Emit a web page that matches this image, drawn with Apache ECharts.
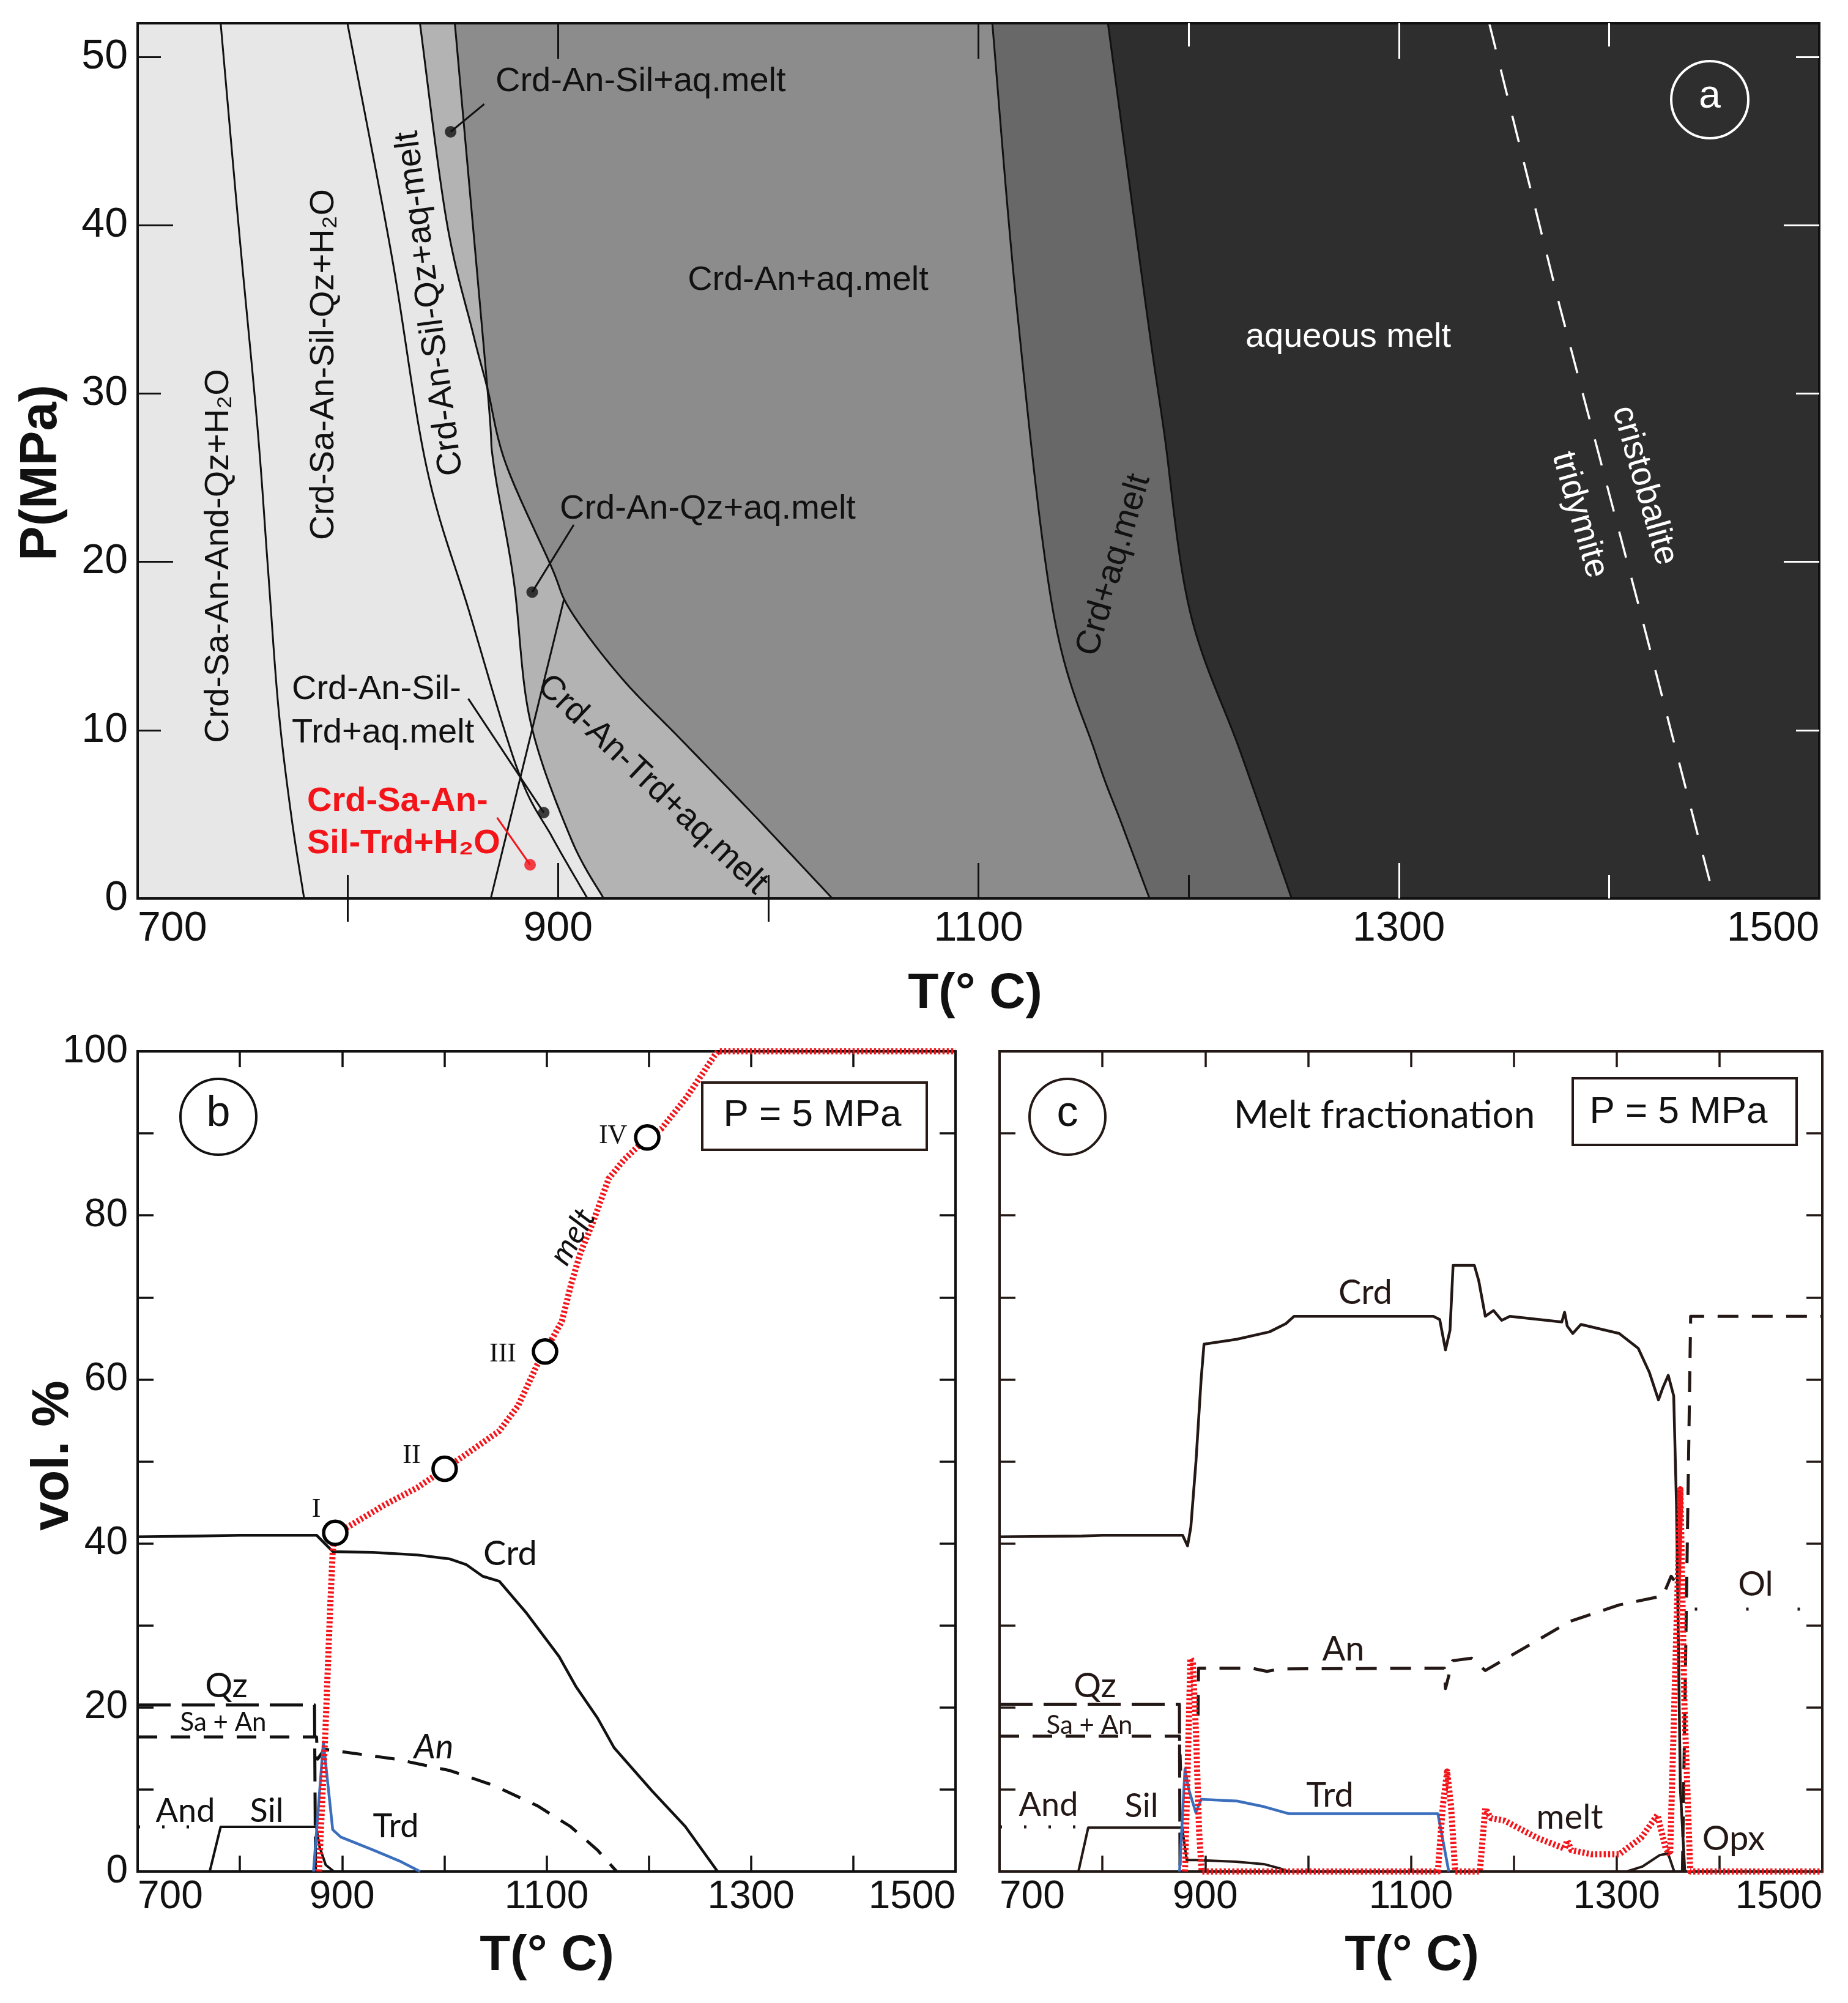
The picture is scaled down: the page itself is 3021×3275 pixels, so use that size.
<!DOCTYPE html>
<html><head><meta charset="utf-8">
<script src="https://cdn.jsdelivr.net/npm/echarts@6/dist/echarts.min.js"></script>
<style>html,body{margin:0;padding:0;background:#fff}#chart{width:3021px;height:3275px}</style>
</head><body><div id="chart"></div>
<script>
// ================= DATA =================
// ---- Panel (a): phase boundaries, points [T (°C), P (MPa)], from top (P=52) to bottom (P=0)
const aBoundarySaAnd   = [[739.5,52],[748,40],[757,28],[762,19.6],[767,11.3],[773,5],[779.2,0]];
const aBoundarySaMelt  = [[799.8,52],[820.7,38.3],[837.5,25.6],[857.6,17.1],[880.9,7.6],[897.4,3.6],[914,0]];
const aBoundarySilOut  = [[850.9,52],[866.4,30.3],[869.3,25.85],[878.9,18.9],[886.7,10.6],[906,3.6],[921.7,0]];
const aBoundaryQzOut   = [[834.3,52],[846.9,40.3],[859.5,33.6],[866.4,30.3],[875.1,25.85],[896.5,19.8],[906.1,17.07],[930.2,13.1],[959.3,9.34],[993,4.98],[1030.5,0]];
const aBoundaryQzTrd   = [[868,0],[902.8,17.76]];
const aBoundaryAnOut   = [[1106.6,52],[1118.5,34.8],[1135.5,17.07],[1155.8,8.58],[1168.3,4.38],[1181.4,0]];
const aBoundaryCrdOut  = [[1161.6,52],[1180.1,34.8],[1188.1,27.9],[1200.6,17.07],[1225,8.58],[1249,0]];
const aCristobaliteTridymite = [[1343,52],[1376.3,35.3],[1414.8,17.07],[1450,0]];
const aSilQzCrossing   = [866.4,30.3];
// label dots and leader lines [T, P]
const aDots      = [[848.9,45.55],[887.7,18.2],[893.2,5.1]];
const aRedDot    = [[886.7,2.0]];
const aLeaders   = [[[864.9,47.2],[848.9,45.55]],[[907.5,22.2],[887.7,18.2]],[[857.3,11.87],[893.2,5.1]]];
const aRedLeader = [[871,4.8],[886.7,2.0]];
// axis ticks / labels (a)
const aXLabels = [700,900,1100,1300,1500];
const aYLabels = [0,10,20,30,40,50];
const aXTicksLongDark = [900,1100];
const aXTicksShortDarkBottom = [800,1000,1200];
const aXTicksShortDarkTop = [800,1000];
const aXTicksLongLight = [1300];
const aXTicksShortLightBottom = [1400];
const aXTicksShortLightTop = [1200,1400];
const aYTicksLong = [20,40];
const aYTicksShort = [10,30,50];

// ---- Panel (b): equilibrium melting at 5 MPa, [T (°C), vol.%]
const bCrd  = [[700,40.8],[760,40.9],[800,41.0],[875,41.0],[883,40.0],[891,39.0],[930,38.9],[973.5,38.6],[1005.6,38.1],[1021.7,37.4],[1037.5,36.0],[1053.7,35.4],[1080.4,31.5],[1112.3,26.2],[1128.5,22.6],[1149.9,18.7],[1166,15.1],[1203.3,9.8],[1235.6,5.5],[1267.3,0]];
const bMelt = [[877.4,0],[883.7,17.2],[888.1,31.5],[890.8,39],[893.3,41.3],[904.1,41.9],[941.5,44.7],[973.5,46.8],[992.3,48.4],[1000.3,49.1],[1017,50.5],[1053.7,53.7],[1072.2,56.8],[1090.5,61.7],[1098.5,63.4],[1115,67.1],[1124,71.6],[1133,75.4],[1145.5,79.2],[1160.8,84.5],[1175.9,86.8],[1198.5,89.5],[1212.6,90.6],[1237,94.4],[1264.4,99.5],[1268,100],[1500,100]];
const bSaAn = [[700,16.4],[875,16.4],[876,13.7],[882.8,14.9],[952.5,13.7],[1005.6,12.3],[1048.3,10.5],[1091.2,8.0],[1123.2,5.5],[1149.9,2.6],[1168.6,0]];
const bQz   = [[700,20.3],[873,20.3],[874,0]];
const bAnd  = [[700,5.45],[771,5.45]];
const bSil  = [[770.5,0],[781.2,5.45],[874.7,5.45],[878,3],[884,0.8],[892,0]];
const bTrd  = [[872,0],[881.7,15.8],[890.8,5.1],[898.7,4.2],[930.8,2.6],[957.6,1.2],[976.3,0]];
const bStages = [[893.3,41.3],[1000.3,49.1],[1098.5,63.4],[1198.5,89.5]];
const bStageNames = ['I','II','III','IV'];

// ---- Panel (c): melt fractionation at 5 MPa, [T (°C), vol.%]
const cCrd  = [[700,40.8],[780,40.9],[800,41.0],[878,41.0],[882.8,39.7],[886,42],[891,50],[896,60],[898.8,64.3],[930.7,64.9],[962.5,65.8],[978.4,66.8],[986.4,67.7],[1121.8,67.7],[1128,67.3],[1133.6,63.6],[1138,66],[1141,73.9],[1161.7,73.9],[1166,72],[1172.3,67.7],[1180.3,68.4],[1188.3,67.2],[1196.2,67.7],[1246.7,67.0],[1249.4,68.2],[1252,66.5],[1257.4,65.6],[1265.3,66.7],[1302.5,65.6],[1321,63.8],[1331.7,60.9],[1340.7,57.5],[1345,59],[1350.2,60.5],[1355.5,58.0],[1358.2,44.7],[1362,10],[1366.3,0]];
const cMelt = [[880.3,0],[883,13],[885.6,26],[888,25.5],[891,17],[894,5],[896.5,0],[1126.2,0],[1131,8],[1135.2,12.2],[1139,8],[1143,0],[1167,0],[1172.3,7.7],[1178,6.5],[1191,6.2],[1222.8,4.1],[1249.4,2.8],[1252,3.8],[1256,2.6],[1275.9,2.1],[1302.5,2.1],[1323.8,4.1],[1339.7,6.9],[1347.7,2.8],[1352,2],[1356,20],[1362,46.6],[1366,20],[1371.6,0],[1500,0]];
const cSaAn = [[700,16.5],[875,16.5],[876,12.3]];
const cAn   = [[893,19],[893.5,24.8],[945,24.8],[960,24.4],[973,24.7],[1132.5,24.8],[1133.6,22.3],[1140.5,25.7],[1159,26.0],[1172.3,24.5],[1254.7,30.5],[1302.5,32.5],[1345,33.6],[1353,36.0],[1356,35.5]];
const cQz   = [[700,20.4],[874.9,20.4],[875.5,0]];
const cAnd  = [[700,5.45],[774,5.45]];
const cSil  = [[776.7,0],[786.2,5.35],[877.6,5.35],[882,1.4],[890.8,1.4],[930,1.2],[957,0.9],[972,0.4],[981,0]];
const cTrd  = [[875,0],[880.3,12.5],[884,10],[890.8,7.2],[896.2,8.8],[930.7,8.6],[957.2,7.9],[981.1,7.05],[1126.2,7.05],[1136.8,0]];
const cOpx  = [[1310,0],[1325,0.6],[1342,2.0],[1350,2.2],[1356,0]];
const cOlDash = [[1364,0],[1372,67.7],[1500,67.7]];
const cOlDot  = [[1376,32],[1500,32]];

// axis ticks / labels (b, c)
const bcXLabels = [700,900,1100,1300,1500];
const bcXTicks  = [800,900,1000,1100,1200,1300,1400];
const bcYLabels = [0,20,40,60,80,100];
const bcYTicks  = [10,20,30,40,50,60,70,80,90];

// ================= RENDER =================
const FONT = '"Liberation Sans", Arial, sans-serif';
const FONT_BC = 'Lato, "Liberation Sans", sans-serif';
const SERIF = '"Liberation Serif", "DejaVu Serif", serif';
const INK = '#111111';
const BROWN = '#231815';
const RED = '#f3141a';
const BLUE = '#3b6fbd';
const aXMin = 700, aXMax = 1500, aYMin = 0, aYMax = 52;
const plain = v => String(v);

const chart = echarts.init(document.getElementById('chart'), null, {renderer:'canvas', width:3021, height:3275});

const X = [], Y = [];
function ax(list, o) {
  list.push(Object.assign({type:'value', silent:true, splitLine:{show:false}, axisLine:{show:false},
    axisLabel:{show:false}, axisTick:{show:false}}, o));
  return list.length - 1;
}
function tick(values, len, color, w) {
  return {show:true, inside:true, length:len, customValues:values, lineStyle:{color:color, width:w}};
}
function frameLine(color, w) { return {show:true, onZero:false, lineStyle:{color:color, width:w, cap:'square'}}; }

// ---- axes panel a (grid 0)
const gA = {gridIndex:0, min:aXMin, max:aXMax, z:5};
const xA = ax(X, Object.assign({}, gA, {position:'bottom', axisLine:frameLine(INK,4),
  axisLabel:{show:true, customValues:aXLabels, formatter:plain, fontSize:68, fontFamily:FONT, color:INK, margin:16, alignMinLabel:'left', alignMaxLabel:'right'},
  axisTick:tick(aXTicksLongDark,58,INK,3)}));
ax(X, Object.assign({}, gA, {position:'bottom', axisTick:tick(aXTicksShortDarkBottom,38,INK,3)}));
ax(X, Object.assign({}, gA, {position:'bottom', axisTick:tick(aXTicksLongLight,58,'#fff',3)}));
ax(X, Object.assign({}, gA, {position:'bottom', axisTick:tick(aXTicksShortLightBottom,38,'#fff',3)}));
ax(X, Object.assign({}, gA, {position:'top', axisLine:frameLine(INK,4), axisTick:tick(aXTicksLongDark,58,INK,3)}));
ax(X, Object.assign({}, gA, {position:'top', axisTick:tick(aXTicksShortDarkTop,38,INK,3)}));
ax(X, Object.assign({}, gA, {position:'top', axisTick:tick(aXTicksLongLight,58,'#fff',3)}));
ax(X, Object.assign({}, gA, {position:'top', axisTick:tick(aXTicksShortLightTop,38,'#fff',3)}));
const gAy = {gridIndex:0, min:aYMin, max:aYMax, z:5};
const yA = ax(Y, Object.assign({}, gAy, {position:'left', axisLine:frameLine(INK,4),
  axisLabel:{show:true, customValues:aYLabels, formatter:plain, fontSize:68, fontFamily:FONT, color:INK, margin:16},
  axisTick:tick(aYTicksLong,58,INK,3)}));
ax(Y, Object.assign({}, gAy, {position:'left', axisTick:tick(aYTicksShort,38,INK,3)}));
ax(Y, Object.assign({}, gAy, {position:'right', axisLine:frameLine(INK,4), axisTick:tick(aYTicksLong,58,'#fff',3)}));
ax(Y, Object.assign({}, gAy, {position:'right', axisTick:tick(aYTicksShort,38,'#fff',3)}));

// ---- axes panel b (grid 1), c (grid 2)
function panelAxes(gi, color, yLabels) {
  const gx = {gridIndex:gi, min:700, max:1500, z:0};
  const gy = {gridIndex:gi, min:0, max:100, z:0};
  const xi = ax(X, Object.assign({}, gx, {position:'bottom', axisLine:frameLine(color,4),
    axisLabel:{show:true, customValues:bcXLabels, formatter:plain, fontSize:64, fontFamily:FONT, color:INK, margin:10, alignMinLabel:'left', alignMaxLabel:'right'},
    axisTick:tick(bcXTicks,26,color,3.5)}));
  ax(X, Object.assign({}, gx, {position:'top', axisLine:frameLine(color,4), axisTick:tick(bcXTicks,26,color,3.5)}));
  const yi = ax(Y, Object.assign({}, gy, {position:'left', axisLine:frameLine(color,4),
    axisLabel:{show:yLabels, customValues:bcYLabels, formatter:plain, fontSize:64, fontFamily:FONT, color:INK, margin:16},
    axisTick:tick(bcYTicks,26,color,3.5)}));
  ax(Y, Object.assign({}, gy, {position:'right', axisLine:frameLine(color,4), axisTick:tick(bcYTicks,26,color,3.5)}));
  return [xi, yi];
}
const [xB, yB] = panelAxes(1, INK, true);
const [xC, yC] = panelAxes(2, BROWN, false);

// ---- smooth sampling of a boundary in pixel space (Catmull-Rom), rendering only
function crSample(pix, i0, i1, steps) {
  const out = [];
  for (let i = i0; i < i1; i++) {
    const p0 = pix[Math.max(i-1,0)], p1 = pix[i], p2 = pix[i+1], p3 = pix[Math.min(i+2,pix.length-1)];
    for (let s = 0; s < steps; s++) {
      const t = s/steps, t2 = t*t, t3 = t2*t;
      out.push([0,1].map(k => 0.5*((2*p1[k]) + (-p0[k]+p2[k])*t + (2*p0[k]-5*p1[k]+4*p2[k]-p3[k])*t2 + (-p0[k]+3*p1[k]-3*p2[k]+p3[k])*t3)));
    }
  }
  out.push(pix[i1]);
  return out;
}
function idxOf(curve, pt) { return curve.findIndex(p => p[0] === pt[0] && p[1] === pt[1]); }

function regionSeries(segs, color, order) {
  return {type:'custom', coordinateSystem:'cartesian2d', xAxisIndex:xA, yAxisIndex:yA, z:1, silent:true,
    data:[[aXMin,aYMin]],
    renderItem: function(params, api) {
      let pts = [];
      segs.forEach(function(s) {
        const pix = s[0].map(p => api.coord(p));
        let smp = crSample(pix, s[1], s[2], 20);
        if (pts.length) smp = smp.slice(1);
        pts = pts.concat(smp);
      });
      pts.push(api.coord([aXMax, aYMin]));
      pts.push(api.coord([aXMax, aYMax]));
      return {type:'polygon', z2:order, shape:{points:pts}, style:{fill:color}};
    }};
}
function curveSeries(curve, color, width) {
  return {type:'custom', coordinateSystem:'cartesian2d', xAxisIndex:xA, yAxisIndex:yA, z:3, silent:true,
    data:[[aXMin,aYMin]],
    renderItem: function(params, api) {
      const pix = curve.map(p => api.coord(p));
      return {type:'polyline', shape:{points:crSample(pix, 0, pix.length-1, 20)}, style:{stroke:color, lineWidth:width, fill:null}};
    }};
}
function lineS(data, xi, yi, color, width, type, z) {
  return {type:'line', data:data, xAxisIndex:xi, yAxisIndex:yi, symbol:'none', silent:true, clip:false, z:z||2,
    lineStyle:{color:color, width:width, type:type||'solid', cap:'butt', join:'round'}};
}

const iE = idxOf(aBoundaryQzOut, aSilQzCrossing), iC = idxOf(aBoundarySilOut, aSilQzCrossing);
const nE = aBoundaryQzOut.length - 1, nC = aBoundarySilOut.length - 1;

const series = [
  regionSeries([[aBoundaryQzOut,0,iE],[aBoundarySilOut,iC,nC]], '#b3b3b3', 1),
  regionSeries([[aBoundarySilOut,0,iC],[aBoundaryQzOut,iE,nE]], '#8c8c8c', 2),
  regionSeries([[aBoundaryAnOut,0,aBoundaryAnOut.length-1]], '#686868', 3),
  regionSeries([[aBoundaryCrdOut,0,aBoundaryCrdOut.length-1]], '#2e2e2e', 4),
  curveSeries(aBoundarySaAnd, INK, 3),
  curveSeries(aBoundarySaMelt, INK, 3),
  curveSeries(aBoundarySilOut, INK, 3),
  curveSeries(aBoundaryQzOut, INK, 3),
  curveSeries(aBoundaryQzTrd, INK, 3),
  curveSeries(aBoundaryAnOut, INK, 3),
  curveSeries(aBoundaryCrdOut, INK, 3),
  lineS(aCristobaliteTridymite, xA, yA, '#ffffff', 3.5, [44,34], 3),
];
aLeaders.forEach(l => series.push(lineS(l, xA, yA, INK, 3, 'solid', 4)));
series.push(lineS(aRedLeader, xA, yA, RED, 3, 'solid', 4));
series.push({type:'scatter', data:aDots, xAxisIndex:xA, yAxisIndex:yA, symbol:'circle', symbolSize:19, z:5, silent:true, itemStyle:{color:INK}});
series.push({type:'scatter', data:aRedDot, xAxisIndex:xA, yAxisIndex:yA, symbol:'circle', symbolSize:19, z:5, silent:true, itemStyle:{color:RED}});

// panel b
series.push(lineS(bQz, xB, yB, INK, 5, [54,18]));
series.push(lineS(bSaAn, xB, yB, INK, 5, [32,22]));
series.push(lineS(bAnd, xB, yB, INK, 5, [4,36]));
series.push(lineS(bSil, xB, yB, INK, 4));
series.push(lineS(bCrd, xB, yB, INK, 4.5));
series.push(lineS(bTrd, xB, yB, BLUE, 4.5, 'solid', 3));
series.push(lineS(bMelt, xB, yB, RED, 10, [3.5,3.5], 4));
const stageOffsets = [[-31,-38],[-54,-21],[-69,5],[-56,-2]];
series.push({type:'scatter', xAxisIndex:xB, yAxisIndex:yB, z:6, silent:true, symbol:'circle', symbolSize:38,
  itemStyle:{color:'#ffffff', borderColor:'#000000', borderWidth:5.5, opacity:1},
  label:{show:true, position:'inside', formatter:p => bStageNames[p.dataIndex], fontFamily:SERIF, fontSize:44, color:INK},
  data:bStages.map((v,i) => ({value:v, label:{offset:stageOffsets[i]}}))});

// panel c
series.push(lineS(cQz, xC, yC, BROWN, 5, [54,18]));
series.push(lineS(cSaAn, xC, yC, BROWN, 5, [32,22]));
series.push(lineS(cAn, xC, yC, BROWN, 5, [34,22]));
series.push(lineS(cAnd, xC, yC, BROWN, 5, [4,36]));
series.push(lineS(cSil, xC, yC, BROWN, 4));
series.push(lineS(cCrd, xC, yC, BROWN, 4.5));
series.push(lineS(cOpx, xC, yC, BROWN, 4));
series.push(lineS(cOlDash, xC, yC, BROWN, 5, [34,22]));
series.push(lineS(cOlDot, xC, yC, BROWN, 5, [4,80]));
series.push(lineS(cTrd, xC, yC, BLUE, 4.5, 'solid', 3));
series.push(lineS(cMelt, xC, yC, RED, 10, [3.5,3.5], 4));

// ---- annotations
function txt(text, x, y, o) {
  o = o || {};
  const font = (o.italic ? 'italic ' : '') + (o.bold ? 'bold ' : '') + (o.size || 56) + 'px ' + (o.family || FONT);
  return {type:'text', x:x, y:y, rotation:(o.rot || 0) * Math.PI / 180, z:100, silent:true,
    style:{text:text, font:font, fill:o.color || INK, align:o.align || 'center', verticalAlign:'middle'}};
}
function ring(x, y, r, color) {
  return {type:'circle', x:x, y:y, z:100, silent:true, shape:{cx:0, cy:0, r:r}, style:{fill:null, stroke:color, lineWidth:4}};
}
function box(x, y, w, h, color) {
  return {type:'rect', z:100, silent:true, shape:{x:x, y:y, width:w, height:h}, style:{fill:null, stroke:color, lineWidth:4}};
}
const graphics = [
  // panel a
  txt('Crd-An-Sil+aq.melt', 810, 134, {align:'left'}),
  txt('Crd-An+aq.melt', 1321, 459),
  txt('aqueous melt', 2204, 552, {color:'#ffffff'}),
  txt('Crd-An-Qz+aq.melt', 915, 833, {align:'left'}),
  txt('Crd-Sa-An-And-Qz+H\u2082O', 358, 909, {rot:90}),
  txt('Crd-Sa-An-Sil-Qz+H\u2082O', 530, 596, {rot:90}),
  txt('Crd-An-Sil-Qz+aq-melt', 703, 496, {rot:97.5}),
  txt('Crd+aq.melt', 1821, 924, {rot:73.5}),
  txt('Crd-An-Trd+aq.melt', 1066, 1283, {rot:-43.4}),
  txt('cristobalite', 2688, 794, {rot:-74, color:'#ffffff'}),
  txt('tridymite', 2582, 842, {rot:-74, color:'#ffffff'}),
  txt('Crd-An-Sil-', 477, 1128, {align:'left'}),
  txt('Trd+aq.melt', 477, 1199, {align:'left'}),
  txt('Crd-Sa-An-', 502, 1311, {align:'left', bold:true, color:RED}),
  txt('Sil-Trd+H\u2082O', 502, 1380, {align:'left', bold:true, color:RED}),
  ring(2795, 163, 63, '#ffffff'),
  txt('a', 2795, 158, {size:64, color:'#ffffff'}),
  txt('P(MPa)', 69, 773, {rot:90, bold:true, size:85}),
  txt('T(\u00b0 C)', 1594, 1625, {bold:true, size:82}),
  // panel b
  ring(357, 1826, 62, INK),
  txt('b', 357, 1822, {size:70}),
  box(1148, 1770, 367, 110, '#2a1a16'),
  txt('P = 5 MPa', 1328, 1824, {size:62}),
  txt('Crd', 834, 2541, {family:FONT_BC, size:56}),
  txt('melt', 936, 2022, {family:FONT_BC, size:52, italic:true, rot:60}),
  txt('Qz', 370, 2757, {family:FONT_BC, size:56}),
  txt('Sa + An', 365, 2816, {family:FONT_BC, size:42}),
  txt('An', 709, 2857, {family:FONT_BC, size:56, italic:true}),
  txt('And', 303, 2962, {family:FONT_BC, size:54}),
  txt('Sil', 436, 2962, {family:FONT_BC, size:54}),
  txt('Trd', 647, 2987, {family:FONT_BC, size:54}),
  txt('vol. %', 88, 2380, {rot:90, bold:true, size:85}),
  txt('T(\u00b0 C)', 894, 3198, {bold:true, size:82}),
  // panel c
  ring(1745, 1826, 62, BROWN),
  txt('c', 1745, 1822, {size:70}),
  txt('Melt fractionation', 2263, 1824, {family:FONT_BC, size:62}),
  box(2571, 1763, 366, 109, BROWN),
  txt('P = 5 MPa', 2744, 1819, {size:62}),
  txt('Crd', 2232, 2114, {family:FONT_BC, size:56, color:BROWN}),
  txt('An', 2196, 2697, {family:FONT_BC, size:56, color:BROWN}),
  txt('Trd', 2174, 2936, {family:FONT_BC, size:56, color:BROWN}),
  txt('melt', 2566, 2972, {family:FONT_BC, size:56, color:BROWN}),
  txt('Qz', 1790, 2757, {family:FONT_BC, size:56, color:BROWN}),
  txt('Sa + An', 1781, 2821, {family:FONT_BC, size:42, color:BROWN}),
  txt('And', 1714, 2952, {family:FONT_BC, size:54, color:BROWN}),
  txt('Sil', 1866, 2954, {family:FONT_BC, size:54, color:BROWN}),
  txt('Opx', 2834, 3007, {family:FONT_BC, size:56, color:BROWN}),
  txt('Ol', 2870, 2591, {family:FONT_BC, size:56, color:BROWN}),
  txt('T(\u00b0 C)', 2308, 3198, {bold:true, size:82}),
];

chart.setOption({
  animation:false,
  backgroundColor:'#ffffff',
  textStyle:{fontFamily:FONT},
  grid:[
    {left:225, top:38, width:2749, height:1431, show:true, backgroundColor:'#e7e7e7', borderWidth:0, containLabel:false, outerBoundsMode:'none'},
    {left:225, top:1719, width:1337, height:1341, containLabel:false, outerBoundsMode:'none'},
    {left:1634, top:1719, width:1345, height:1341, containLabel:false, outerBoundsMode:'none'}
  ],
  xAxis:X, yAxis:Y,
  series:series,
  graphic:{elements:graphics}
});
</script></body></html>
